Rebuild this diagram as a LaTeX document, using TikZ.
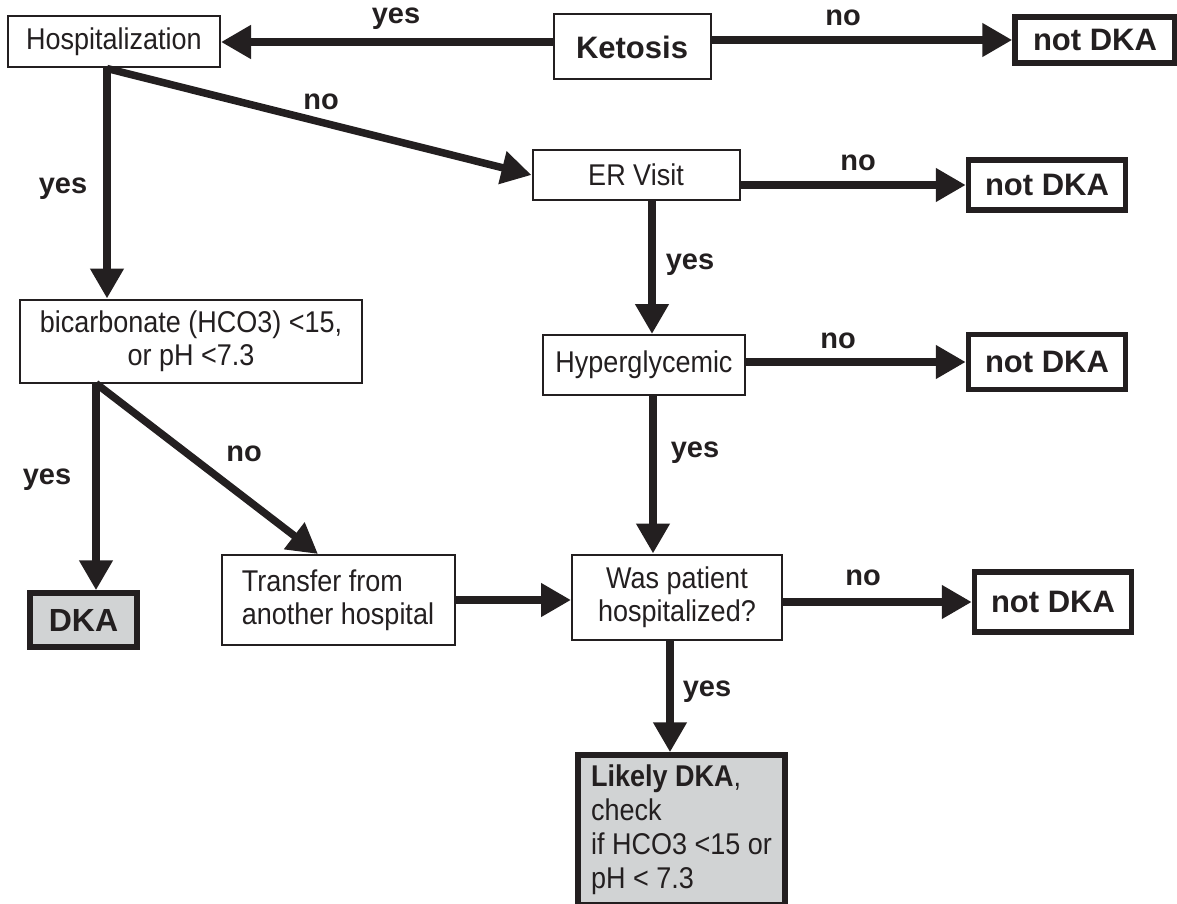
\documentclass[tikz,border=0pt]{standalone}
\usepackage{fontspec}
\setmainfont{Liberation Sans}
\newfontfamily\narrowfont[FakeStretch=0.9]{Liberation Sans}
\usetikzlibrary{arrows.meta,positioning}
\definecolor{ink}{HTML}{231F20}
\definecolor{boxgray}{HTML}{D1D3D4}
\tikzset{
  >={Triangle[length=30pt,width=32pt]},
  every node/.style={text=ink},
  box/.style={
    draw=ink,
    fill=white,
    line width=2pt,
    align=center,
    inner sep=4pt,
    font=\narrowfont\fontsize{30}{33}\selectfont
  },
  notdka/.style={box, line width=5.5pt, font=\bfseries\fontsize{31}{33}\selectfont},
  dkabox/.style={notdka, fill=boxgray},
  arrow/.style={->, line width=7.5pt, draw=ink},
  annot/.style={font=\bfseries\fontsize{29}{32}\selectfont}
}

\begin{document}
\begin{tikzpicture}[x=1pt,y=-1pt]
  \useasboundingbox (0,0) rectangle (1177,904);

  % Boxes
  \node[box, minimum width=212pt, minimum height=51pt] (hosp) at (114,42) {Hospitalization};
  \node[box, font=\bfseries\fontsize{31}{33}\selectfont, minimum width=157pt, minimum height=65pt] (ketosis) at (632,47) {Ketosis};
  \node[notdka, minimum width=160pt, minimum height=46pt] (nd1) at (1095,40) {not DKA};

  \node[box, minimum width=207pt, minimum height=50pt] (er) at (636,175) {ER Visit};
  \node[notdka, minimum width=157pt, minimum height=50pt] (nd2) at (1047,185) {not DKA};

  \node[box, minimum width=202pt, minimum height=60pt] (hyper) at (644,365) {Hyperglycemic};
  \node[notdka, minimum width=157pt, minimum height=55pt] (nd3) at (1047,362) {not DKA};

  \node[box, minimum width=210pt, minimum height=85pt] (was) at (677,597) {Was patient\\hospitalized?};
  \node[notdka, minimum width=157pt, minimum height=60pt] (nd4) at (1053,602) {not DKA};

  \node[dkabox, font=\narrowfont\fontsize{30}{34}\selectfont, align=left,
        minimum width=207pt, minimum height=150pt] (likely) at (681.5,830)
        {\textbf{Likely DKA},\\check\\if HCO3 <15 or\\pH < 7.3};

  \node[box, minimum width=342pt, minimum height=83pt] (bicarb) at (191,341) {bicarbonate (HCO3) <15,\\or pH <7.3};
  \node[dkabox, font=\bfseries\fontsize{32}{34}\selectfont, minimum width=107pt, minimum height=54pt] (dka) at (83.5,620) {DKA};
  \node[box, align=left, minimum width=233pt, minimum height=90pt] (transfer) at (338,600) {Transfer from\\another hospital};

  % Connectors
  \coordinate (hsplit) at ([xshift=-7pt]hosp.south);
  \coordinate (bsplit) at ([xshift=-95pt]bicarb.south);

  \draw[arrow] (ketosis.west |- hosp.east) -- (hosp.east);
  \draw[arrow] (ketosis.east |- nd1.west) -- (nd1.west);
  \draw[arrow] (hsplit) -- (er.west);
  \draw[arrow] (hsplit) -- (hsplit |- bicarb.north);
  \draw[arrow] (er.east |- nd2.west) -- (nd2.west);
  \draw[arrow] ([xshift=16pt]er.south) -- ([xshift=16pt]er.south |- hyper.north);
  \draw[arrow] (hyper.east |- nd3.west) -- (nd3.west);
  \draw[arrow] ([xshift=9pt]hyper.south) -- ([xshift=9pt]hyper.south |- was.north);
  \draw[arrow] (was.east |- nd4.west) -- (nd4.west);
  \draw[arrow] ([xshift=-7pt]was.south) -- ([xshift=-7pt]was.south |- likely.north);
  \draw[arrow] (bsplit) -- (bsplit |- dka.north);
  \draw[arrow] (bsplit) -- ([xshift=-20pt]transfer.north);
  \draw[arrow] (transfer.east) -- (was.west |- transfer.east);

  % Labels
  \node[annot] (l1) at (396,19) {yes};
  \node[annot] (l2) at (843,18) {no};
  \node[annot] (l3) at (321,102) {no};
  \node[annot] (l4) at (63,189) {yes};
  \node[annot] (l5) at (858,163) {no};
  \node[annot] (l6) at (690,265) {yes};
  \node[annot] (l7) at (838,341) {no};
  \node[annot] (l8) at (695,453) {yes};
  \node[annot] (l9) at (863,578) {no};
  \node[annot] (l10) at (707,692) {yes};
  \node[annot] (l11) at (47,480) {yes};
  \node[annot] (l12) at (244,454) {no};
\end{tikzpicture}
\end{document}
